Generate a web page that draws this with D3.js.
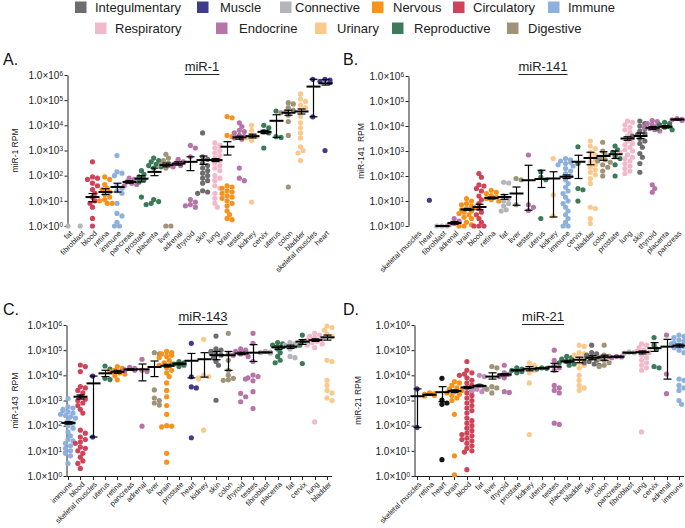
<!DOCTYPE html>
<html lang="en">
<head>
<meta charset="UTF-8">
<title>miRNA expression across tissues</title>
<script src="https://d3js.org/d3.v7.min.js"></script>
<style>
  body { margin: 0; background: #fff; }
  svg { font-family: "Liberation Sans", Arial, Helvetica, sans-serif; }
</style>
</head>
<body>
<svg id="chart" width="685" height="528"></svg>
<script>
// organ systems and their colours (legend order)
const systems = ["Integulmentary", "Muscle", "Connective", "Nervous", "Circulatory", "Immune",
                 "Respiratory", "Endocrine", "Urinary", "Reproductive", "Digestive"];
const systemColors = ["#6d6d70", "#413c8a", "#b4b4b9", "#f6921e", "#cf4458", "#8eb0dd",
                      "#f1b9cb", "#b674a8", "#fbc98c", "#3d7a59", "#9f9477"];
const tissueSystem = {
  skin: "Integulmentary", heart: "Muscle", "skeletal muscles": "Muscle",
  fat: "Connective", fibroblast: "Connective", brain: "Nervous", retina: "Nervous",
  blood: "Circulatory", immune: "Immune", lung: "Respiratory",
  thyroid: "Endocrine", adrenal: "Endocrine", pancreas: "Endocrine", testes: "Endocrine",
  kidney: "Urinary", bladder: "Urinary",
  placenta: "Reproductive", prostate: "Reproductive", cervix: "Reproductive", uterus: "Reproductive",
  liver: "Digestive", colon: "Digestive"
};

const yTicks = [1, 10, 100, 1e3, 1e4, 1e5, 1e6];

// ---- A. miR-1  (all values are log10 RPM) ----
const catsA = ["fat", "fibroblast", "blood", "retina", "immune", "pancreas", "prostate", "placenta", "liver",
  "adrenal", "thyroid", "skin", "lung", "brain", "testes", "kidney", "cervix", "uterus", "colon", "bladder",
  "skeletal muscles", "heart"];
const ptsA = [
  [0], [0],
  [2.55, 1.95, 1.9, 1.85, 1.7, 1.6, 1.45, 1.3, 1.15, 1.0, 0.9, 0.75, 0.3, 0],
  [1.95, 1.85, 1.65, 1.5, 1.45, 1.35, 1.25, 1.15, 1.05, 1.0, 0.9, 0.9],
  [2.8, 2.15, 2.1, 2.0, 1.6, 1.5, 1.4, 1.3, 0.9, 0.5, 0.4, 0.15, 0, 0],
  [1.9, 1.85, 1.75, 1.7, 1.65, 1.6],
  [2.2, 2.05, 1.95, 1.85, 1.75, 1.15],
  [2.7, 2.6, 2.55, 2.45, 2.4, 2.35, 2.3, 1.05, 0.97, 0.9, 0.85],
  [2.85, 2.7, 2.6, 2.5, 2.45, 2.3, 0, 0],
  [2.65, 2.55, 2.5, 2.4, 2.35],
  [3.2, 3.1, 2.75, 1.05, 0.95, 0.85, 0.8, 0.75],
  [3.7, 2.75, 2.65, 2.5, 2.4, 2.3, 2.2, 2.1, 2.0, 1.9, 1.8, 1.7, 1.4, 1.35, 1.3],
  [3.3, 3.2, 3.1, 3.0, 2.9, 2.8, 2.7, 2.6, 2.5, 2.4, 2.3, 2.2, 2.0, 1.9, 1.8, 1.6, 1.5, 1.3, 1.1, 0.9, 0.75],
  [4.35, 4.3, 3.6, 3.55, 1.6, 1.55, 1.5, 1.4, 1.35, 1.3, 1.2, 1.15, 1.1, 1.0, 0.9, 0.8, 0.6, 0.45, 0.3, 0.25],
  [4.1, 3.95, 3.8, 3.75, 3.7, 3.6, 3.55, 3.5, 3.45, 2.3, 1.9, 1.8],
  [4.0, 3.8, 3.6, 3.55, 3.5, 3.4, 0.95],
  [4.0, 3.9, 3.75, 3.7, 3.1],
  [4.57, 3.55, 3.52],
  [4.9, 4.85, 4.7, 4.6, 4.55, 4.5, 4.4, 4.15, 3.6, 1.55],
  [5.25, 5.05, 4.95, 4.8, 4.7, 4.6, 4.35, 4.1, 3.9, 3.7, 3.5, 3.15, 3.0, 2.9, 2.6],
  [5.83, 4.34],
  [5.83, 5.8, 5.75, 5.7, 3.0]
];
const meanA = [null, null, 1.15, 1.35, 1.55, 1.75, 1.88, 2.15, 2.42, 2.48, 2.55, 2.62, 2.62, 3.15, 3.52, 3.57,
  3.74, 4.18, 4.5, 4.55, 5.54, 5.67];
const semA = [null, null, [0.96, 1.29], [1.25, 1.48], [1.35, 1.7], [1.7, 1.8], [1.75, 2.0], [2.0, 2.3],
  [2.35, 2.5], [2.42, 2.55], [2.2, 2.75], [2.45, 2.78], [2.56, 2.68], [2.82, 3.35], [3.45, 3.57], [3.5, 3.65],
  [3.67, 3.8], [3.52, 4.42], [4.4, 4.6], [4.45, 4.65], [4.34, 5.83], [5.6, 5.82]];

// ---- B. miR-141 ----
const catsB = ["skeletal muscles", "heart", "fibroblast", "adrenal", "brain", "blood", "retina", "fat", "liver",
  "testes", "uterus", "kidney", "immune", "cervix", "bladder", "colon", "prostate", "lung", "skin", "thyroid",
  "placenta", "pancreas"];
const ptsB = [
  [],
  [1.03],
  [0, 0, 0],
  [0.3, 0.2, 0.1, 0.05],
  [1.1, 1.0, 0.9, 0.85, 0.8, 0.75, 0.7, 0.65, 0.6, 0.55, 0.5, 0.45, 0.35, 0.3, 0.15, 0.05, 0, 0],
  [2.1, 1.95, 1.65, 1.6, 1.5, 1.4, 1.2, 1.05, 0.9, 0.7, 0.55, 0.45, 0.3, 0.15, 0, 0, 0],
  [1.43, 1.35, 1.3, 1.22, 1.15, 1.1, 1.05, 1.0],
  [1.75, 1.72, 1.2, 1.1, 1.0, 0.9, 0.8, 0.65, 0.6],
  [1.9, 1.85, 0.85],
  [2.84, 0.85, 0.75, 0.62],
  [2.17, 1.95, 1.85, 0.3],
  [2.7, 1.25, 0.4],
  [2.7, 2.65, 2.6, 2.55, 2.5, 2.45, 2.4, 2.3, 2.2, 2.1, 2.0, 1.85, 1.7, 1.55, 1.4, 1.3, 1.15, 1.0, 0.9, 0.75,
   0.6, 0.45, 0.3, 0.15, 0, 0],
  [3.17, 2.5, 1.5, 1.45, 1.0],
  [3.4, 3.2, 3.1, 2.95, 2.85, 2.75, 2.65, 2.55, 2.45, 2.35, 2.25, 2.15, 2.05, 1.9, 1.7, 0.75, 0.7, 0.3, 0.1],
  [3.35, 3.0, 2.85, 2.75, 2.65, 2.6, 2.55, 2.45, 2.35, 2.2, 2.0],
  [3.2, 3.05, 2.95, 2.8, 2.7, 2.45, 2.0],
  [4.2, 4.15, 4.05, 3.95, 3.85, 3.75, 3.6, 3.5, 3.4, 3.3, 3.25, 3.15, 3.05, 3.0, 2.95, 2.85, 2.75, 2.7, 2.6,
   2.5, 2.4, 2.3, 2.2, 2.1],
  [4.2, 4.1, 4.0, 3.9, 3.8, 3.7, 3.65, 3.6, 3.5, 3.4, 3.3, 3.15, 2.9, 2.75, 2.5, 2.15],
  [4.22, 4.18, 4.1, 4.05, 4.0, 3.95, 3.9, 3.85, 3.8, 1.65, 1.5, 1.35],
  [4.15, 4.1, 4.05, 4.0, 3.95, 3.9, 3.85],
  [4.3, 4.27, 4.25, 4.22]
];
const meanB = [null, null, 0, 0.12, 0.66, 0.76, 1.12, 1.16, 1.3, 1.83, 1.88, 1.9, 1.97, 2.57, 2.72, 2.8, 2.87,
  3.5, 3.6, 3.93, 3.97, 4.26];
const semB = [null, null, [0, 0], [0.07, 0.18], [0.62, 0.7], [0.65, 0.87], [1.08, 1.16], [1.07, 1.26],
  [0.83, 1.56], [0.63, 2.43], [1.54, 2.23], [0.36, 2.17], [1.9, 2.04], [1.9, 2.83], [2.45, 2.95], [2.63, 2.97],
  [2.7, 3.0], [3.43, 3.57], [3.5, 3.72], [3.87, 3.98], [3.92, 4.02], [4.24, 4.28]];

// ---- C. miR-143 ----
const catsC = ["immune", "blood", "skeletal muscles", "uterus", "retina", "pancreas", "adrenal", "liver", "brain",
  "prostate", "heart", "kidney", "skin", "colon", "thyroid", "testes", "fibroblast", "placenta", "fat", "cervix",
  "lung", "bladder"];
const ptsC = [
  [3.08, 2.75, 2.7, 2.65, 2.6, 2.55, 2.5, 2.45, 2.4, 2.35, 2.3, 2.2, 2.1, 2.0, 1.9, 1.75, 1.6, 1.45, 1.4, 1.3,
   1.2, 1.1, 1.0, 0.9, 0.8, 0.5],
  [4.41, 4.35, 4.15, 3.55, 3.5, 3.4, 3.3, 3.15, 3.05, 3.0, 2.9, 2.8, 2.65, 2.5, 1.82, 1.7, 1.55, 1.45, 1.35, 1.3,
   1.15, 1.1, 1.0, 0.9, 0.75, 0.6, 0.5, 0.3],
  [3.97, 1.55],
  [4.37, 4.25, 3.88, 3.83],
  [4.35, 4.28, 4.2, 4.15, 4.1, 4.05, 3.98, 3.82],
  [4.32, 4.28, 4.22, 4.2, 4.18],
  [4.64, 4.2, 4.15, 1.98],
  [4.9, 4.85, 3.42, 3.1, 3.0, 2.9, 2.82],
  [4.95, 4.9, 4.85, 4.8, 4.75, 4.7, 4.6, 4.5, 4.45, 4.4, 4.3, 4.2, 4.1, 3.95, 3.7, 3.4, 3.15, 2.8, 2.45, 2.0,
   1.98, 1.95, 0.9, 0.55],
  [4.55, 4.5, 4.45, 4.4, 4.35],
  [5.27, 3.94, 3.54, 3.5, 1.52],
  [5.43, 4.01, 3.95, 3.9, 3.85, 1.82],
  [5.56, 5.05, 5.0, 4.95, 4.9, 4.85, 4.8, 4.7, 4.55, 4.4, 3.01],
  [5.67, 4.85, 4.6, 4.2, 4.0, 3.88, 3.82, 3.8],
  [5.05, 5.0, 4.95, 4.9, 4.85, 4.8, 4.75, 3.28, 3.15, 2.95],
  [5.67, 5.27, 4.55, 4.01, 3.95, 3.9, 3.85, 3.78, 3.35, 2.68],
  [4.95, 4.92, 4.9, 4.88],
  [5.3, 5.25, 5.2, 5.15, 5.05, 4.9, 4.75, 4.6, 4.5],
  [5.3, 5.25, 5.2, 5.15, 5.05, 4.75, 4.7],
  [5.6, 5.35, 5.3, 5.2, 4.47],
  [5.67, 5.6, 5.55, 5.5, 5.45, 5.4, 5.35, 5.3, 5.25, 5.2, 5.1, 2.15],
  [5.96, 5.9, 5.8, 5.65, 5.55, 4.6, 4.55, 3.8, 3.6, 3.4, 3.3, 3.1, 3.0]
];
const meanC = [2.11, 3.15, 3.68, 4.08, 4.14, 4.23, 4.24, 4.33, 4.38, 4.46, 4.58, 4.64, 4.8, 4.8, 4.87, 4.9,
  4.91, 5.11, 5.14, 5.34, 5.4, 5.51];
const semC = [[2.06, 2.16], [3.06, 3.22], [1.55, 3.97], [3.95, 4.2], [4.08, 4.2], [4.2, 4.26], [3.78, 4.45],
  [3.95, 4.57], [4.33, 4.44], [4.42, 4.49], [3.9, 4.87], [3.93, 4.9], [4.62, 4.95], [4.2, 4.95], [4.82, 4.92],
  [4.55, 5.22], [4.9, 4.92], [5.03, 5.17], [5.07, 5.2], [5.23, 5.42], [5.35, 5.45], [5.4, 5.6]];

// ---- D. miR-21 ----
const catsD = ["skeletal muscles", "retina", "heart", "brain", "blood", "fat", "liver", "thyroid", "prostate",
  "kidney", "uterus", "testes", "placenta", "bladder", "skin", "colon", "pancreas", "fibroblast", "lung", "cervix",
  "adrenal", "immune"];
const ptsD = [
  [3.46, 1.93],
  [3.3, 3.27, 3.24, 3.2, 3.18],
  [3.88, 3.02, 2.9, 2.85, 0.65],
  [3.75, 3.7, 3.6, 3.5, 3.45, 3.4, 3.35, 3.3, 3.25, 3.2, 3.1, 3.0, 2.45, 0.8, 0.05],
  [4.55, 4.2, 4.1, 4.05, 4.0, 3.9, 3.8, 3.7, 3.6, 3.5, 3.4, 3.3, 3.2, 3.1, 3.0, 2.9, 2.8, 2.7, 2.6, 2.5, 2.3,
   2.2, 2.1, 2.0, 1.9, 1.8, 1.7, 1.65, 1.6, 1.5, 1.45, 1.4, 1.3, 1.2, 1.1, 1.0, 0.95, 0.25],
  [4.0, 3.95, 3.6, 3.5, 3.45, 3.4, 3.35],
  [4.35, 4.3, 3.55, 3.5, 3.45, 3.3],
  [4.4, 4.1, 4.05, 4.0, 3.95, 3.9, 3.35, 3.32],
  [4.3, 4.25, 4.2, 4.15, 4.1],
  [4.5, 4.4, 4.3, 4.2, 4.1, 3.7, 1.65],
  [4.3, 4.28, 4.25],
  [5.0, 4.6, 4.4, 4.3, 4.2, 3.6, 3.5, 3.4, 3.3, 2.1, 2.05],
  [4.75, 4.7, 4.65, 4.6, 4.55, 4.5, 4.45, 4.4],
  [5.2, 5.15, 4.9, 4.85, 4.8, 4.7, 4.6, 4.5, 4.4, 4.3, 4.0, 3.8, 3.6, 3.5, 3.4],
  [5.2, 4.9, 4.85, 4.8, 4.75, 4.7, 4.6, 4.55, 4.5, 4.45, 4.4],
  [5.2, 4.8, 4.75, 4.7, 4.65, 4.6, 4.5, 4.4, 4.35],
  [4.75, 4.73, 4.7],
  [4.92, 4.9, 4.88],
  [5.25, 5.2, 5.1, 5.0, 4.95, 4.9, 4.8, 4.7, 4.6, 4.5, 4.4, 4.3, 4.2, 1.75],
  [5.5, 5.2, 5.05, 4.35, 4.3],
  [5.6, 4.05, 3.27],
  [5.6, 5.55, 5.5, 5.4, 5.35, 5.3, 5.25, 5.2, 5.15, 5.1, 5.0, 4.9, 3.85, 3.8, 3.6, 3.5, 3.4, 3.0, 2.85]
];
const meanD = [3.17, 3.23, 3.33, 3.38, 3.52, 3.58, 3.95, 4.03, 4.2, 4.26, 4.28, 4.34, 4.55, 4.62, 4.7, 4.72,
  4.74, 4.9, 4.92, 5.08, 5.14, 5.18];
const semD = [[1.93, 3.46], [3.21, 3.25], [2.95, 3.55], [3.32, 3.42], [3.48, 3.56], [3.55, 3.62], [3.85, 4.1],
  [3.98, 4.07], [4.18, 4.22], [4.18, 4.35], [4.27, 4.29], [4.15, 4.48], [4.5, 4.6], [4.5, 4.72], [4.62, 4.78],
  [4.6, 4.8], [4.71, 4.76], [4.89, 4.91], [4.85, 4.97], [4.95, 5.3], [3.85, 5.43], [5.12, 5.24]];
// colours that differ from the system colour in panel D
const colorOverrideD = { heart: "#151515", fat: "#bf8cbe" };

// ---- layout ----
const panels = [
  { letter: "A.", title: "miR-1", ylab: "miR-1 RPM", cats: catsA, pts: ptsA, mean: meanA, sem: semA,
    axisX: 67.5, x0: 68, x1: 325, top: 75, bottom: 226, ox: 0, oy: 0, ylabX: 15, titleX: 202, xAxis: false },
  { letter: "B.", title: "miR-141", ylab: "miR-141  RPM", cats: catsB, pts: ptsB, mean: meanB, sem: semB,
    axisX: 408.5, x0: 417, x1: 677, top: 76, bottom: 226, ox: 340, oy: 0, ylabX: 361, titleX: 543, xAxis: false },
  { letter: "C.", title: "miR-143", ylab: "miR-143  RPM", cats: catsC, pts: ptsC, mean: meanC, sem: semC,
    axisX: 66.5, x0: 68, x1: 327, top: 325, bottom: 476, ox: 0, oy: 250, ylabX: 15, titleX: 203, xAxis: true },
  { letter: "D.", title: "miR-21", ylab: "miR-21 RPM", cats: catsD, pts: ptsD, mean: meanD, sem: semD,
    axisX: 414.5, x0: 417, x1: 679, top: 325, bottom: 476, ox: 340, oy: 250, ylabX: 358, titleX: 543, xAxis: true,
    override: colorOverrideD }
];

const svg = d3.select("#chart");
const r = 2.6;

// ---- legend ----
const legendRows = [
  { names: ["Integulmentary", "Muscle", "Connective", "Nervous", "Circulatory", "Immune"],
    sx: [75, 197, 280, 372, 453, 548], tx: [95, 220, 295, 393, 473, 568], y: 1.5 },
  { names: ["Respiratory", "Endocrine", "Urinary", "Reproductive", "Digestive"],
    sx: [95, 216, 315, 392, 507], tx: [115, 239, 337, 414, 528], y: 22.5 }
];
const legend = svg.append("g").attr("font-size", 13).attr("fill", "#222");
legendRows.forEach(row => {
  row.names.forEach((name, i) => {
    legend.append("rect").attr("x", row.sx[i]).attr("y", row.y).attr("width", 11.5).attr("height", 11.5)
      .attr("fill", systemColors[systems.indexOf(name)]);
    legend.append("text").attr("x", row.tx[i]).attr("y", row.y + 10.5).text(name);
  });
});

// simple beeswarm: spread points of one column sideways so they don't overlap
function swarm(vals, y) {
  const placed = [];
  const offsets = [0, 2.5, -2.5, 5, -5, 7.5, -7.5];
  vals.map(v => ({ v, py: y(10 ** v) }))
    .sort((a, b) => a.py - b.py)
    .forEach((p, k) => {
      let dx = null;
      for (const o of offsets) {
        if (placed.every(q => (q.dx - o) ** 2 + (q.py - p.py) ** 2 >= (2 * r * 0.8) ** 2)) { dx = o; break; }
      }
      p.dx = dx === null ? offsets[k % offsets.length] : dx;
      placed.push(p);
    });
  return placed;
}

panels.forEach(p => {
  const g = svg.append("g");
  const y = d3.scaleLog().domain([1, 1e6]).range([p.bottom, p.top]);
  const x = d3.scalePoint().domain(p.cats).range([p.x0, p.x1]);
  const colorOf = c => (p.override && p.override[c]) || systemColors[systems.indexOf(tissueSystem[c])];

  // panel letter and title
  g.append("text").attr("x", p.ox + 3).attr("y", p.oy + 65).attr("font-size", 16).attr("fill", "#111")
    .text(p.letter);
  const t = g.append("text").attr("x", p.titleX).attr("y", p.oy + 71).attr("text-anchor", "middle")
    .attr("font-size", 13).attr("fill", "#222").text(p.title);
  const tw = t.node().getComputedTextLength();
  g.append("line").attr("x1", p.titleX - tw / 2).attr("x2", p.titleX + tw / 2)
    .attr("y1", p.oy + 74.5).attr("y2", p.oy + 74.5).attr("stroke", "#222").attr("stroke-width", 1);

  // y label
  g.append("text").attr("transform", `translate(${p.ylabX},${(p.top + p.bottom) / 2}) rotate(-90)`)
    .attr("text-anchor", "middle").attr("dy", "0.35em").attr("font-size", 8.5).attr("fill", "#222")
    .style("white-space", "pre").text(p.ylab);

  // y axis
  const ya = g.append("g").attr("transform", `translate(${p.axisX},0)`)
    .call(d3.axisLeft(y).tickValues(yTicks).tickSize(3).tickSizeOuter(0).tickPadding(1.5));
  ya.attr("font-family", null).attr("font-size", 10);
  ya.selectAll("path, line").attr("stroke", "#222");
  ya.selectAll(".tick text").attr("fill", "#222").each(function (d) {
    const el = d3.select(this);
    el.text(null);
    el.append("tspan").text("1.0×10");
    el.append("tspan").attr("dy", "-0.45em").attr("font-size", 6.5).text(Math.round(Math.log10(d)));
  });

  // x axis
  if (p.xAxis) {
    const xa = g.append("g").attr("transform", `translate(0,${p.bottom + 0.5})`);
    xa.append("line").attr("x1", p.axisX).attr("x2", p.x1 + 5).attr("stroke", "#222");
    xa.selectAll(".xt").data(p.cats).join("line").attr("class", "xt")
      .attr("x1", d => Math.round(x(d)) + 0.5).attr("x2", d => Math.round(x(d)) + 0.5)
      .attr("y1", 0).attr("y2", 3.5).attr("stroke", "#222");
  }
  g.append("g").selectAll("text").data(p.cats).join("text")
    .attr("transform", d => `translate(${x(d) + 3},${p.bottom + (p.xAxis ? 7 : 6)}) rotate(-45)`)
    .attr("text-anchor", "end").attr("dy", "0.35em").attr("font-size", 7.5).attr("fill", "#222")
    .text(d => d);

  // dots
  p.cats.forEach((c, i) => {
    const sw = swarm(p.pts[i], y);
    g.append("g").selectAll("circle").data(sw).join("circle")
      .attr("cx", d => x(c) + d.dx).attr("cy", d => d.py).attr("r", r).attr("fill", colorOf(c));
  });

  // mean and SEM bars
  p.cats.forEach((c, i) => {
    if (p.mean[i] === null) return;
    const cx = Math.round(x(c)) + 0.5;
    const [lo, hi] = p.sem[i];
    const eb = g.append("g").attr("stroke", "#000");
    eb.append("line").attr("x1", cx).attr("x2", cx).attr("y1", y(10 ** lo)).attr("y2", y(10 ** hi))
      .attr("stroke-width", 1.2);
    [lo, hi].forEach(v => eb.append("line").attr("x1", cx - 4).attr("x2", cx + 4)
      .attr("y1", y(10 ** v)).attr("y2", y(10 ** v)).attr("stroke-width", 1.2));
    eb.append("line").attr("x1", cx - 7).attr("x2", cx + 7)
      .attr("y1", y(10 ** p.mean[i])).attr("y2", y(10 ** p.mean[i])).attr("stroke-width", 2);
  });
});
</script>
</body>
</html>
